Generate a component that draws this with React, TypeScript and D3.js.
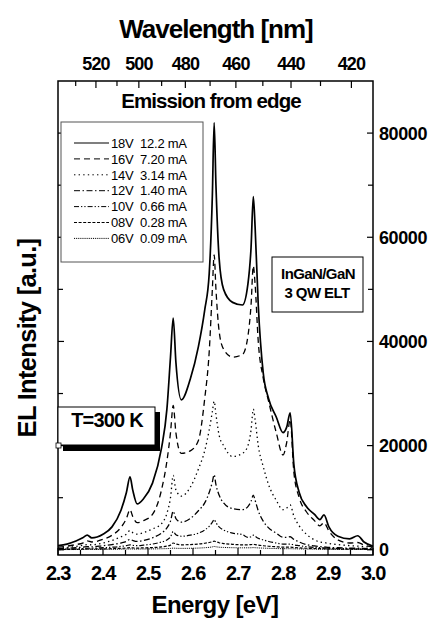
import React from "react";
import * as d3 from "d3";

// ---- data ----
const energies = [
  2.300, 2.320, 2.340, 2.355, 2.365, 2.375, 2.400, 2.420, 2.440, 2.452,
  2.460, 2.466, 2.476, 2.490, 2.510, 2.530, 2.542, 2.550, 2.556, 2.562,
  2.574, 2.594, 2.612, 2.626, 2.636, 2.643, 2.647, 2.651, 2.658, 2.668,
  2.688, 2.710, 2.722, 2.729, 2.734, 2.738, 2.745, 2.756, 2.768, 2.785,
  2.800, 2.808, 2.816, 2.824, 2.836, 2.852, 2.870, 2.882, 2.891, 2.902,
  2.922, 2.948, 2.966, 2.980, 3.000,
];

const v18 = [
  800, 1100, 1700, 2300, 2800, 2300, 3000, 4400, 7600, 11000,
  14000, 11500, 8800, 9800, 12800, 19500, 27000, 37000, 44500, 36000,
  28800, 32800, 39000, 46000, 53000, 68000, 82000, 70000, 56000, 50000,
  47500, 47000, 51000, 58000, 67800, 62000, 47000, 34000, 29000, 25500,
  22500, 23500, 26300, 16500, 11000, 8300, 6800, 5800, 6700, 4400,
  2600, 2100, 2700, 1500, 700,
];
const v16 = [
  500, 700, 1000, 1300, 1700, 1500, 2000, 2800, 4300, 6000,
  7700, 6400, 5200, 5600, 6800, 11500, 17000, 22500, 27700, 22500,
  18500, 19000, 21000, 29000, 38000, 50000, 56600, 50000, 42000, 38500,
  37000, 37500, 41000, 47000, 54500, 51000, 40000, 33000, 28500, 22500,
  18200, 20500, 25000, 15000, 10000, 7300, 5600, 4600, 5200, 3600,
  1900, 1300, 1400, 900, 500,
];
const v14 = [
  300, 450, 650, 850, 1000, 950, 1300, 1800, 2500, 3000,
  3700, 3300, 3000, 3300, 4000, 5000, 7000, 10000, 14300, 11500,
  10300, 12000, 15500, 19000, 23000, 26500, 28500, 26000, 22000, 20000,
  17900, 18500, 20000, 23000, 27000, 25000, 20000, 16000, 12500, 9500,
  7700, 8000, 8600, 6500, 4600, 3000, 1900, 1500, 1400, 1200,
  1000, 800, 700, 600, 500,
];
const v12 = [
  200, 300, 400, 500, 600, 550, 800, 1000, 1300, 1600,
  2000, 1800, 1600, 1800, 2300, 3200, 4200, 5500, 7400, 6000,
  5300, 6000, 7500, 9000, 11000, 13000, 14400, 12500, 10500, 9000,
  7900, 7700, 8300, 9300, 10500, 9500, 7500, 5500, 4200, 3200,
  2400, 2400, 2500, 2000, 1500, 1000, 750, 600, 550, 450,
  400, 300, 300, 250, 200,
];
const v10 = [
  100, 150, 200, 250, 300, 300, 400, 500, 650, 800,
  950, 850, 800, 900, 1100, 1500, 1900, 2500, 3500, 2900,
  2600, 2800, 3200, 3800, 4500, 5300, 5800, 5200, 4400, 3800,
  3200, 2900, 2400, 2500, 2800, 2600, 2200, 1900, 1600, 1300,
  1100, 1100, 1100, 950, 800, 600, 450, 400, 350, 300,
  250, 200, 200, 150, 100,
];
const v08 = [
  50, 70, 100, 120, 150, 150, 180, 220, 280, 330,
  400, 360, 330, 370, 430, 550, 700, 900, 1300, 1100,
  950, 1000, 1100, 1250, 1400, 1550, 1650, 1550, 1350, 1200,
  1050, 950, 950, 1000, 1050, 1000, 900, 780, 680, 580,
  500, 500, 500, 450, 380, 300, 250, 220, 200, 180,
  150, 120, 110, 100, 80,
];
const v06 = [
  30, 40, 50, 60, 70, 70, 80, 100, 120, 140,
  160, 150, 140, 150, 170, 200, 230, 260, 320, 290,
  270, 290, 330, 400, 470, 560, 640, 580, 500, 450,
  400, 380, 380, 390, 420, 400, 360, 320, 280, 240,
  210, 210, 210, 190, 170, 140, 120, 110, 100, 90,
  80, 70, 60, 55, 50,
];

const seriesValues = [v18, v16, v14, v12, v10, v08, v06];
const voltages = ["18V", "16V", "14V", "12V", "10V", "08V", "06V"];
const currents = ["12.2 mA", "7.20 mA", "3.14 mA", "1.40 mA", "0.66 mA", "0.28 mA", "0.09 mA"];

const energyTicks = [2.3, 2.4, 2.5, 2.6, 2.7, 2.8, 2.9, 3.0];
const energyMinor = [2.35, 2.45, 2.55, 2.65, 2.75, 2.85, 2.95];
const wavelengthTicks = [520, 500, 480, 460, 440, 420];
const wavelengthMinor = [530, 510, 490, 470, 450, 430];
const intensityTicks = [0, 20000, 40000, 60000, 80000];
const intensityMinor = [10000, 30000, 50000, 70000];

// ---- styles ----
const dashes = ["", "6,4", "1.4,3.2", "6,2.5,1.5,2.5", "5,2,1.3,2,1.3,2", "3,1.6", "1,0.9"];
const widths = [1.7, 1.3, 1.3, 1.3, 1.2, 1.2, 1.0];
const FONT = "'Liberation Sans', Arial, Helvetica, sans-serif";

export default function App() {
  const W = 433, H = 622;
  const x = d3.scaleLinear().domain([2.3, 3.0]).range([58, 373]);
  const y = d3.scaleLinear().domain([-1000, 90000]).range([555, 81]);
  const [x0, x1] = x.range();
  const [yb, yt] = y.range();

  const line = d3
    .line<number>()
    .x((_, i) => x(energies[i]))
    .y((d) => y(d))
    .curve(d3.curveMonotoneX);

  const lamToX = (l: number) => x(1239.84 / l);

  const legX = 61, legY = 122, legW = 142, legH = 140;
  const rowY = (i: number) => legY + 21 + i * 15.9;

  return (
    <svg
      width={W}
      height={H}
      style={{ position: "absolute", left: 0, top: 0, background: "#fff" }}
      fontFamily={FONT}
    >
      <rect x={0} y={0} width={W} height={H} fill="#fff" />
      <defs>
        <clipPath id="plotclip">
          <rect x={x0} y={yt} width={x1 - x0} height={yb - yt} />
        </clipPath>
      </defs>

      {/* curves */}
      <g clipPath="url(#plotclip)">
        {seriesValues.map((vals, i) => (
          <path
            key={i}
            d={line(vals) || ""}
            fill="none"
            stroke="#000"
            strokeWidth={widths[i]}
            strokeDasharray={dashes[i] || undefined}
            strokeLinejoin="round"
          />
        ))}
      </g>

      {/* frame */}
      <rect x={x0} y={yt} width={x1 - x0} height={yb - yt} fill="none" stroke="#000" strokeWidth={1.5} />

      {/* bottom ticks */}
      {energyTicks.map((t) => (
        <line key={"bt" + t} x1={x(t)} x2={x(t)} y1={yb} y2={yb - 7} stroke="#000" strokeWidth={1.2} />
      ))}
      {energyMinor.map((t) => (
        <line key={"bm" + t} x1={x(t)} x2={x(t)} y1={yb} y2={yb - 5} stroke="#000" strokeWidth={1.2} />
      ))}
      {energyTicks.map((t) => (
        <text
          key={"bl" + t}
          x={x(t)}
          y={580}
          textAnchor="middle"
          fontSize={20}
          fontWeight="bold"
          letterSpacing={-1.3}
        >
          {t.toFixed(1)}
        </text>
      ))}

      {/* top ticks (wavelength) */}
      {wavelengthTicks.map((l) => (
        <line key={"tt" + l} x1={lamToX(l)} x2={lamToX(l)} y1={yt} y2={yt + 7} stroke="#000" strokeWidth={1.2} />
      ))}
      {wavelengthMinor.map((l) => (
        <line key={"tm" + l} x1={lamToX(l)} x2={lamToX(l)} y1={yt} y2={yt + 5} stroke="#000" strokeWidth={1.2} />
      ))}
      {wavelengthTicks.map((l) => (
        <text
          key={"tl" + l}
          x={lamToX(l)}
          y={70}
          textAnchor="middle"
          fontSize={18}
          fontWeight="bold"
          letterSpacing={-0.9}
        >
          {l}
        </text>
      ))}

      {/* right & left ticks */}
      {intensityTicks.map((v) => (
        <g key={"rt" + v}>
          <line x1={x1} x2={x1 - 6} y1={y(v)} y2={y(v)} stroke="#000" strokeWidth={1.2} />
          <line x1={x0} x2={x0 + 6} y1={y(v)} y2={y(v)} stroke="#000" strokeWidth={1.2} />
          <text x={379} y={y(v) + 6.5} fontSize={18} fontWeight="bold" letterSpacing={-0.4}>
            {v}
          </text>
        </g>
      ))}
      {intensityMinor.map((v) => (
        <g key={"rm" + v}>
          <line x1={x1} x2={x1 - 5} y1={y(v)} y2={y(v)} stroke="#000" strokeWidth={1.2} />
          <line x1={x0} x2={x0 + 5} y1={y(v)} y2={y(v)} stroke="#000" strokeWidth={1.2} />
        </g>
      ))}

      {/* axis titles */}
      <text x={216} y={38} textAnchor="middle" fontSize={26} fontWeight="bold" letterSpacing={-1}>
        Wavelength [nm]
      </text>
      <text x={215} y={613} textAnchor="middle" fontSize={24} fontWeight="bold" letterSpacing={-0.6}>
        Energy [eV]
      </text>
      <text
        transform={`translate(36, 338) rotate(-90)`}
        textAnchor="middle"
        fontSize={25.5}
        fontWeight="bold"
        letterSpacing={-0.7}
      >
        EL Intensity [a.u.]
      </text>

      {/* title inside */}
      <text x={211} y={108} textAnchor="middle" fontSize={20.5} fontWeight="bold" letterSpacing={-0.9}>
        Emission from edge
      </text>

      {/* legend */}
      <rect x={legX} y={legY} width={legW} height={legH} fill="#fff" stroke="#555" strokeWidth={1} />
      {voltages.map((v, i) => (
        <g key={"lg" + i}>
          <line
            x1={74}
            x2={109}
            y1={rowY(i)}
            y2={rowY(i)}
            stroke="#000"
            strokeWidth={widths[i] > 1.5 ? 1.2 : 1}
            strokeDasharray={dashes[i] || undefined}
          />
          <text x={111} y={rowY(i) + 4.7} fontSize={13} letterSpacing={-0.25} style={{ whiteSpace: "pre" }}>
            {v + "  " + currents[i]}
          </text>
        </g>
      ))}

      {/* InGaN/GaN box */}
      <rect x={272} y={257} width={91} height={55} fill="#fff" stroke="#000" strokeWidth={1} />
      <text x={318} y={279} textAnchor="middle" fontSize={15} fontWeight="bold" letterSpacing={-0.6}>
        InGaN/GaN
      </text>
      <text x={317} y={298} textAnchor="middle" fontSize={15} fontWeight="bold" letterSpacing={-0.6}>
        3 QW ELT
      </text>

      {/* T=300 K box with shadow */}
      <rect x={63} y={412} width={97} height={39} fill="#000" />
      <rect x={58} y={407} width={97} height={38} fill="#fff" stroke="#000" strokeWidth={1} />
      <text x={107} y={427} textAnchor="middle" fontSize={20} fontWeight="bold" letterSpacing={-0.8}>
        T=300 K
      </text>
      <rect x={56} y={443} width={5} height={5} fill="#fff" stroke="#000" strokeWidth={0.8} />
    </svg>
  );
}
